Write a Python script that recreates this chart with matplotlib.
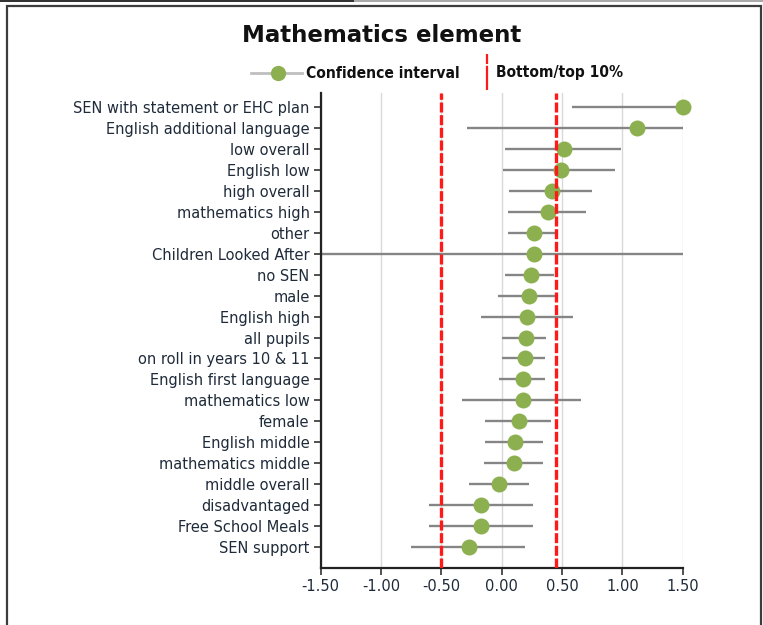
import matplotlib
matplotlib.use("Agg")
import matplotlib.pyplot as plt
from matplotlib.lines import Line2D
from matplotlib.patches import Rectangle
from matplotlib import font_manager

categories = [
    "SEN with statement or EHC plan", "English additional language", "low overall",
    "English low", "high overall", "mathematics high", "other", "Children Looked After",
    "no SEN", "male", "English high", "all pupils", "on roll in years 10 & 11",
    "English first language", "mathematics low", "female", "English middle",
    "mathematics middle", "middle overall", "disadvantaged", "Free School Meals",
    "SEN support",
]
scores = [1.50, 1.12, 0.52, 0.49, 0.42, 0.38, 0.27, 0.27, 0.24, 0.23, 0.21, 0.20,
          0.19, 0.18, 0.18, 0.14, 0.11, 0.10, -0.02, -0.17, -0.17, -0.27]
ci_low = [0.58, -0.29, 0.03, 0.01, 0.06, 0.05, 0.05, -1.50, 0.03, -0.03, -0.17, 0.00,
          0.00, -0.02, -0.33, -0.14, -0.14, -0.15, -0.27, -0.60, -0.60, -0.75]
ci_high = [1.50, 1.50, 0.99, 0.94, 0.75, 0.70, 0.45, 1.50, 0.43, 0.45, 0.59, 0.37,
           0.36, 0.36, 0.66, 0.41, 0.34, 0.34, 0.23, 0.26, 0.26, 0.19]
thresholds = [-0.50, 0.45]
xticks = [-1.5, -1.0, -0.5, 0.0, 0.5, 1.0, 1.5]
legend_labels = ["Confidence interval", "Bottom/top 10%"]

names = {f.name for f in font_manager.fontManager.ttflist}
stretch = 'normal'
if 'Liberation Sans Narrow' in names:
    narrow = 'Liberation Sans Narrow'
else:
    narrow = 'DejaVu Sans'
    stretch = 'condensed'

txt = '#1f2b3a'
green = '#8cb04f'
red = '#ff1a1a'
W, H = 763, 625
fig = plt.figure(figsize=(W / 100, H / 100), dpi=100)
ax = fig.add_axes([0.4203, 0.0907, 0.4745, 0.7605])

y = list(range(len(categories)))
for x0 in xticks:
    ax.axvline(x0, color='#d9d9d9', lw=1, zorder=0)
ax.hlines(y, ci_low, ci_high, color='#858585', lw=1.7, zorder=2)
ax.plot(scores, y, 'o', ms=11.5, color=green, mec='none', zorder=3, clip_on=False)
for t in thresholds:
    ax.axvline(t, color=red, lw=2.4, ls=(0, (3.0, 0.8)), zorder=4)

ax.set_xlim(-1.5, 1.5)
ax.set_ylim(len(categories) - 1 + 1.03, -0.69)
ax.set_yticks(y)
ax.set_yticklabels(categories, color=txt, fontsize=10.5)
ax.set_xticks(xticks)
ax.set_xticklabels([f"{v:.2f}" for v in xticks], color=txt, fontsize=10.5)
for s in ['top', 'right']:
    ax.spines[s].set_visible(False)
for s in ['left', 'bottom']:
    ax.spines[s].set_linewidth(1.6)
    ax.spines[s].set_color('#222222')
ax.tick_params(axis='both', length=5, width=1.2, color='#333333', pad=3)

fig.text(0.5, 1 - 35 / H, "Mathematics element", ha='center', va='center',
         fontsize=16.5, fontweight='bold', color='#111111')

# legend drawn in figure pixel coordinates
def fx(px):
    return px / W

def fy(py):
    return 1 - py / H

ly = 73
fig.lines.append(Line2D([fx(251), fx(302)], [fy(ly), fy(ly)], transform=fig.transFigure,
                        color='#bfbfbf', lw=2))
fig.lines.append(Line2D([fx(277.7)], [fy(ly)], transform=fig.transFigure, marker='o',
                        ms=11, mfc=green, mec='none', lw=0))
fig.lines.append(Line2D([fx(487), fx(487)], [fy(54), fy(90)], transform=fig.transFigure,
                        color=red, lw=1.6, ls=(0, (4.5, 0.8, 12, 0))))
lprop = dict(family=narrow, weight='bold', size=11.2, stretch=stretch, color='#111111',
             va='center', ha='left')
fig.text(fx(306), fy(ly), legend_labels[0], **lprop)
fig.text(fx(496), fy(ly), legend_labels[1], **lprop)

fig.patches.append(Rectangle((6.5 / W, -0.1), (761 - 6.5) / W, 1.1 - 6.5 / H,
                             transform=fig.transFigure, fill=False, ec='#3c3c3c', lw=1.6))
fig.patches.append(Rectangle((0, 1 - 2.2 / H), 354 / W, 2.2 / H, transform=fig.transFigure,
                             fc='#333333', ec='none'))
fig.patches.append(Rectangle((354 / W, 1 - 1.5 / H), 1 - 354 / W, 1.5 / H,
                             transform=fig.transFigure, fc='#aaaaaa', ec='none'))

fig.savefig("out.png", dpi=100)
